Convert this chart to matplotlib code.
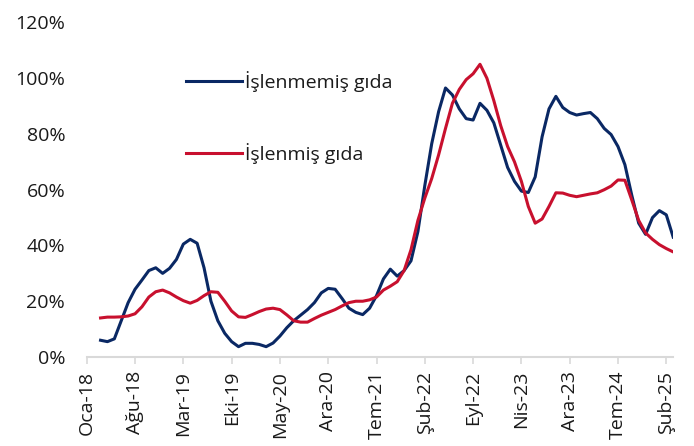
import matplotlib
matplotlib.use("Agg")
from matplotlib import pyplot as plt
from matplotlib.ticker import FuncFormatter
import numpy as np

plt.rcParams['font.family'] = ['Open Sans', 'DejaVu Sans']

# kategori ekseni: 0 = Oca-18, veriler 2. kategoriden başlıyor
tick_labels = ["Oca-18", "Ağu-18", "Mar-19", "Eki-19", "May-20", "Ara-20", "Tem-21",
               "Şub-22", "Eyl-22", "Nis-23", "Ara-23", "Tem-24", "Şub-25"]
start_index = 2

islenmemis = [6, 5.5, 6.5, 13, 19.5, 24.3, 27.6, 31, 32, 30,
              31.8, 35, 40.5, 42.2, 40.8, 32, 20, 13, 8.5, 5.5,
              3.7, 4.9, 4.9, 4.5, 3.7, 5, 7.5, 10.5, 13, 15,
              17, 19.5, 23, 24.6, 24.3, 21, 17.5, 16, 15.2, 17.5,
              22, 28, 31.5, 29, 31, 34.5, 45, 61.5, 76.5, 88,
              96.5, 94, 89, 85.5, 85, 91, 88.5, 84, 76, 68,
              63, 59.5, 59, 64.6, 79, 89, 93.5, 89.5, 87.7, 86.8,
              87.3, 87.7, 85.5, 82, 79.8, 75.5, 69, 58, 48, 44,
              50, 52.5, 51, 43]

islenmis = [14, 14.3, 14.3, 14.4, 14.7, 15.5, 18, 21.5, 23.4, 24,
            23, 21.5, 20.2, 19.3, 20.3, 22, 23.4, 23.2, 20, 16.5,
            14.4, 14.2, 15.2, 16.3, 17.2, 17.5, 17, 15.1, 13, 12.5,
            12.5, 13.8, 15, 16, 17, 18.3, 19.5, 20, 20, 20.5,
            21.5, 24, 25.4, 27, 31, 38.5, 49, 57, 64, 72.5,
            82, 91, 96, 99.5, 101.6, 105, 100, 92, 83, 75.5,
            70, 63, 54, 48, 49.5, 54, 58.9, 58.8, 58, 57.5,
            58, 58.5, 58.9, 60, 61.3, 63.5, 63.4, 56.3, 49, 44.5,
            42.2, 40.3, 38.9, 37.7]

blue = "#0a2864"
red = "#c8102e"
text_color = "#1a1a1a"

x = np.arange(start_index, start_index + len(islenmemis))

fig = plt.figure(figsize=(6.94, 4.46), dpi=100)
ax = fig.add_axes([0.125, 0.1996, 0.845, 0.75])

ax.plot(x, islenmemis, color=blue, lw=2.2, label="İşlenmemiş gıda", solid_joinstyle='round')
ax.plot(x, islenmis, color=red, lw=2.2, label="İşlenmiş gıda", solid_joinstyle='round')

ax.set_xlim(0, x[-1])
ax.set_ylim(0, 120)
ax.set_yticks(np.arange(0, 121, 20))
ax.yaxis.set_major_formatter(FuncFormatter(lambda v, p: "{:.0f}%".format(v)))
ax.set_xticks(np.arange(0, 7 * len(tick_labels), 7))
ax.set_xticklabels(tick_labels, rotation=90)

for s in ["top", "right", "left"]:
    ax.spines[s].set_visible(False)
ax.spines["bottom"].set_color("#d9d9d9")
ax.spines["bottom"].set_linewidth(1.5)

ax.tick_params(axis="y", length=0, pad=15.5, labelsize=14, labelcolor=text_color)
ax.tick_params(axis="x", length=5, width=1.2, color="#d9d9d9", pad=5,
               labelsize=14, labelcolor=text_color)

leg = fig.legend(loc="center left", bbox_to_anchor=(186 / 694, 1 - 117.5 / 446),
                 frameon=False, fontsize=14, handlelength=2.9, handletextpad=0.15,
                 labelspacing=2.6, borderpad=0, borderaxespad=0)
for t in leg.get_texts():
    t.set_color(text_color)

fig.savefig("out.png", dpi=100)
